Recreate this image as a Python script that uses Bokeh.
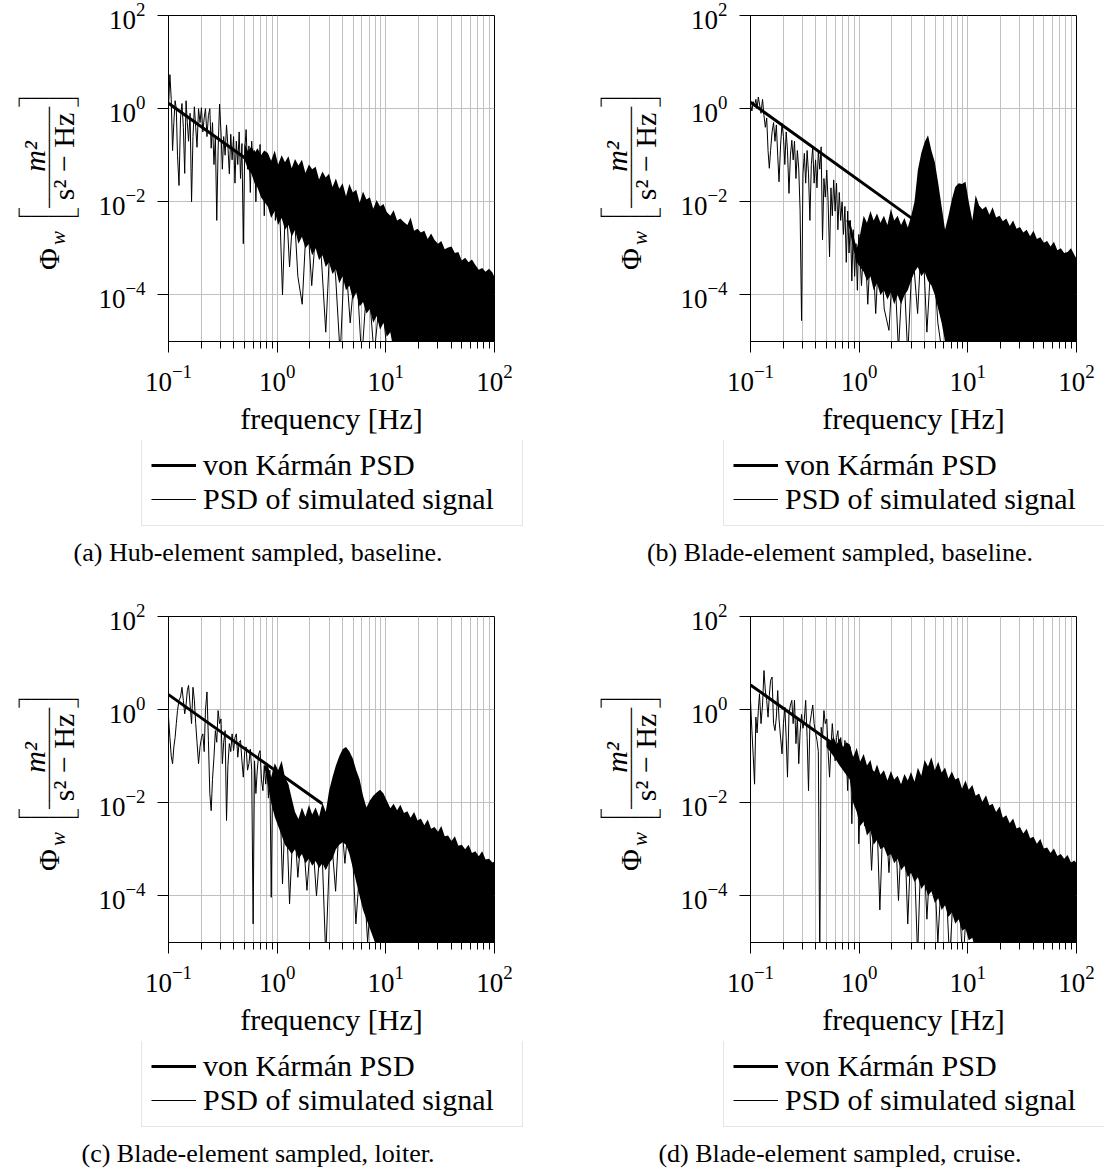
import math
from bokeh.plotting import figure
from bokeh.layouts import column, row
from bokeh.models import FixedTicker, Legend, LegendItem
from bokeh.core.properties import value
from bokeh.embed import file_html
from bokeh.resources import INLINE

# ---------------- data ----------------
# frequencies (Hz) of the resolved (sparse) part of the simulated PSD
LF = [0.100, 0.103, 0.106, 0.109, 0.112, 0.115, 0.118, 0.121, 0.125, 0.129,
      0.133, 0.137, 0.141, 0.145, 0.149, 0.153, 0.158, 0.163, 0.168, 0.173,
      0.178, 0.183, 0.189, 0.195, 0.201, 0.207, 0.213, 0.219, 0.226, 0.233,
      0.240, 0.247, 0.254, 0.262, 0.270, 0.278, 0.286, 0.295, 0.304, 0.313,
      0.322, 0.332, 0.342, 0.352, 0.363, 0.374, 0.385, 0.397, 0.409, 0.421,
      0.434, 0.447, 0.460, 0.474, 0.488, 0.503, 0.518, 0.534, 0.550, 0.566,
      0.583, 0.601, 0.619, 0.637, 0.656, 0.676, 0.696, 0.717, 0.739, 0.761,
      0.784, 0.807, 0.831, 0.856, 0.882, 0.908, 0.935, 0.963, 0.992, 1.05,
      1.12, 1.20, 1.30, 1.42, 1.55, 1.70, 1.88, 2.08, 2.30, 2.55,
      2.80, 3.10, 3.45, 3.80, 4.20, 4.70, 5.30, 6.00, 6.80, 7.80,
      9.00, 10.5]

# frequencies (Hz) of the dense band of the simulated PSD
FB = [0.50, 0.54, 0.58, 0.62, 0.66, 0.71, 0.76,
      0.82, 0.88, 0.95, 1.02, 1.10, 1.18, 1.27, 1.36, 1.46, 1.57,
      1.69, 1.82, 1.96, 2.10, 2.26, 2.43, 2.61, 2.80, 3.00, 3.23,
      3.47, 3.73, 4.00, 4.30, 4.62, 4.97, 5.34, 5.74, 6.17, 6.63,
      7.13, 7.66, 8.23, 8.85, 9.51,
      10.2, 11.0, 11.8, 12.7, 13.6, 14.7, 15.8, 16.9, 18.2, 19.6,
      21.0, 22.6, 24.3, 26.1, 28.1, 30.2, 32.4, 34.8, 37.4, 40.2,
      43.2, 46.5, 50.0, 53.7, 57.7, 62.0, 66.7, 71.7, 77.0, 82.8,
      89.0, 95.7, 100.0]

# PSD values as powers of ten (exponents)
# (a) hub-element, baseline
A_LINE = [0.05, 0.73, 0.2, -0.9, -0.3, 0.17, 0.0, -1.0, -1.65, -0.2,
          0.11, -0.4, -1.39, 0.17, -0.3, -0.7, -0.1, -2.0, -0.6, 0.04,
          -0.4, -0.83, 0.0, -0.3, 0.02, -0.5, -0.2, 0.0, -0.6, -0.15,
          0.0, -0.85, -0.3, -1.2, -0.6, -2.4, -0.9, 0.1, -0.5, -1.3,
          -0.6, -1.0, -0.35, -0.8, -1.4, -0.55, -1.1, -0.6, -1.6, -0.7,
          -1.2, -0.5, -1.5, -0.75, -2.9, -0.9, -0.45, -1.3, -0.8, -1.8,
          -0.7, -1.4, -0.9, -2.0, -0.95, -1.6, -0.77, -1.9, -1.0, -2.3,
          -1.1, -1.7, -1.0, -2.2, -1.2, -1.8, -1.05, -2.4, -1.3, -2.0,
          -4.0, -1.8, -3.4, -2.0, -3.6, -4.2, -2.2, -3.8, -2.4, -3.2,
          -4.8, -2.6, -3.6, -5.3, -3.0, -4.6, -3.2, -5.4, -3.5, -5.3,
          -3.8, -5.5]
A_UP = [-0.75, -0.92, -0.8, -0.95, -0.85, -1.0, -0.9,
        -0.95, -1.12, -0.9, -1.2, -1.0, -1.15, -1.02, -1.28, -1.08, -1.22,
        -1.1, -1.38, -1.2, -1.3, -1.25, -1.52, -1.35, -1.48, -1.4, -1.68,
        -1.5, -1.72, -1.6, -1.88, -1.62, -1.8, -1.74, -2.02, -1.78, -1.95,
        -1.9, -2.15, -1.96, -2.1, -2.05,
        -2.22, -2.3, -2.18, -2.4, -2.36, -2.44, -2.5, -2.34, -2.62, -2.58,
        -2.66, -2.62, -2.8, -2.68, -2.82, -2.9, -2.84, -3.02, -2.98, -2.96,
        -3.1, -3.08, -3.26, -3.2, -3.3, -3.24, -3.36, -3.46, -3.42, -3.5,
        -3.44, -3.52, -3.62]
A_LO = [-1.1, -1.3, -1.4, -1.6, -1.7, -1.9, -2.0,
        -2.1, -2.35, -2.2, -2.5, -2.35, -2.6, -2.5, -2.75, -2.6, -2.9,
        -2.75, -3.0, -2.9, -3.15, -3.0, -3.25, -3.15, -3.4, -3.3, -3.55,
        -3.45, -3.75, -3.6, -3.9, -3.8, -4.1, -3.95, -4.25, -4.15, -4.4,
        -4.3, -4.6, -4.45, -4.75, -4.6,
        -4.9, -4.8, -5.2, -6.0, -6.0, -6.0, -6.0, -6.0, -6.0, -6.0,
        -6.0, -6.0, -6.0, -6.0, -6.0, -6.0, -6.0, -6.0, -6.0, -6.0,
        -6.0, -6.0, -6.0, -6.0, -6.0, -6.0, -6.0, -6.0, -6.0, -6.0,
        -6.0, -6.0, -6.0]

# (b) blade-element, baseline
B_LINE = [0.1, -0.05, 0.15, 0.05, 0.2, 0.0, 0.25, 0.1, -0.1, 0.2,
          -0.15, -0.4, -0.2, -0.9, -1.28, -0.9, -0.5, -0.3, -0.7, -0.35,
          -1.0, -1.57, -0.8, -0.32, -0.6, -1.2, -0.5, -0.9, -1.82, -1.0,
          -0.68, -1.1, -0.7, -1.5, -0.9, -1.3, -2.18, -4.55, -1.4, -0.96,
          -1.6, -0.9, -1.4, -2.4, -1.2, -0.82, -1.6, -1.1, -1.7, -0.9,
          -1.3, -0.82, -2.82, -1.5, -1.9, -1.32, -2.0, -3.18, -1.7, -2.3,
          -1.53, -2.2, -1.6, -2.6, -1.8, -2.4, -2.0, -2.7, -2.1, -3.3,
          -2.2, -3.1, -2.4, -3.7, -2.6, -3.6, -2.9, -3.9, -2.7, -3.8,
          -2.6, -4.2, -2.5, -4.4, -2.6, -4.3, -4.76, -3.0, -5.2, -3.2,
          -5.3, -3.0, -4.4, -2.5, -4.8, -2.8, -4.6, -5.5, -3.5, -5.4,
          -3.6, -5.5]
B_UP = [-2.4, -2.4, -2.4, -2.4, -2.4, -2.4, -2.4,
        -2.4, -2.7, -3.0, -2.7, -2.3, -2.45, -2.2, -2.4, -2.25, -2.45,
        -2.3, -2.5, -2.15, -2.4, -2.3, -2.5, -2.35, -2.55, -2.32, -2.0,
        -1.32, -0.95, -0.72, -0.57, -0.9, -1.15, -1.6, -2.1, -2.6, -2.3,
        -1.95, -1.68, -1.6, -1.62, -1.57,
        -2.0, -2.4, -1.86, -2.08, -2.16, -2.1, -2.28, -2.12, -2.34, -2.3,
        -2.42, -2.36, -2.52, -2.4, -2.58, -2.54, -2.66, -2.6, -2.74, -2.62,
        -2.8, -2.76, -2.88, -2.84, -2.96, -2.86, -3.04, -3.0, -3.1, -3.08,
        -3.0, -3.14, -3.22]
B_LO = [-2.4, -2.4, -2.4, -2.4, -2.4, -2.4, -2.4,
        -2.6, -3.0, -3.3, -3.4, -3.5, -3.7, -3.6, -3.9, -3.75, -4.0,
        -3.9, -4.1, -3.95, -4.2, -4.0, -4.2, -4.0, -3.9, -3.7, -3.5,
        -3.4, -3.6, -3.5, -3.7, -3.8, -4.0, -4.3, -4.6, -5.0, -6.0,
        -6.0, -6.0, -6.0, -6.0, -6.0,
        -6.0, -6.0, -6.0, -6.0, -6.0, -6.0, -6.0, -6.0, -6.0, -6.0,
        -6.0, -6.0, -6.0, -6.0, -6.0, -6.0, -6.0, -6.0, -6.0, -6.0,
        -6.0, -6.0, -6.0, -6.0, -6.0, -6.0, -6.0, -6.0, -6.0, -6.0,
        -6.0, -6.0, -6.0]

# (c) blade-element, loiter
C_LINE = [-0.16, -0.6, -1.0, -1.16, -0.8, -0.6, -0.3, -0.02, 0.2, 0.27,
          0.48, 0.2, -0.09, 0.1, 0.41, 0.52, 0.1, -0.3, 0.48, 0.2,
          -0.3, -0.7, -1.16, -0.8, -0.6, -0.52, -0.9, 0.0, 0.38, -0.66,
          -1.8, -2.17, -1.5, -1.02, -0.45, -0.7, -0.02, -0.3, -0.2, -1.16,
          -0.7, -0.45, -2.38, -1.2, -0.73, -0.9, -0.52, -0.88, -0.6, -0.52,
          -1.02, -0.7, -0.66, -1.1, -1.45, -0.9, -0.8, -1.3, -1.16, -0.85,
          -1.3, -4.6, -1.1, -1.8, -1.3, -0.95, -0.88, -1.5, -1.74, -1.2,
          -1.6, -1.16, -1.9, -1.3, -4.03, -1.45, -2.0, -1.5, -2.1, -1.6,
          -3.74, -1.8, -4.17, -2.2, -3.6, -2.4, -3.88, -2.5, -4.0, -2.6,
          -5.3, -2.5, -3.9, -2.0, -3.3, -2.0, -4.6, -2.8, -5.0, -3.0,
          -5.5, -3.2]
C_UP = [-1.2, -1.2, -1.2, -1.2, -1.2, -1.2, -1.2,
        -1.2, -1.45, -1.15, -1.3, -1.1, -1.45, -1.6, -1.9, -2.2, -2.35,
        -2.1, -2.3, -2.05, -2.25, -2.1, -2.3, -2.0, -2.2, -1.75, -1.45,
        -1.2, -1.0, -0.85, -0.8, -0.9, -1.05, -1.3, -1.5, -1.85, -2.1,
        -1.95, -1.85, -1.78, -1.72, -1.8,
        -1.95, -2.12, -2.02, -2.16, -2.04, -2.22, -2.18, -2.32, -2.2, -2.38,
        -2.34, -2.48, -2.36, -2.56, -2.52, -2.62, -2.5, -2.72, -2.7, -2.82,
        -2.72, -2.92, -2.9, -3.0, -2.9, -3.08, -3.04, -3.15, -3.04, -3.22,
        -3.2, -3.28, -3.26]
C_LO = [-1.2, -1.2, -1.2, -1.2, -1.2, -1.2, -1.2,
        -1.6, -2.0, -2.3, -2.5, -2.7, -2.9, -3.0, -3.1, -3.0, -3.2,
        -3.1, -3.3, -3.2, -3.35, -3.25, -3.4, -3.3, -3.45, -3.3, -3.2,
        -3.0, -2.9, -2.85, -2.9, -3.1, -3.4, -3.7, -4.0, -4.3, -4.5,
        -4.7, -4.9, -5.1, -6.0, -6.0,
        -6.0, -6.0, -6.0, -6.0, -6.0, -6.0, -6.0, -6.0, -6.0, -6.0,
        -6.0, -6.0, -6.0, -6.0, -6.0, -6.0, -6.0, -6.0, -6.0, -6.0,
        -6.0, -6.0, -6.0, -6.0, -6.0, -6.0, -6.0, -6.0, -6.0, -6.0,
        -6.0, -6.0, -6.0]

# (d) blade-element, cruise
D_LINE = [0.2, -0.45, -1.0, -1.6, -0.16, -0.5, -0.02, 0.34, -0.3, 0.1,
          0.84, 0.4, 0.2, -0.16, 0.3, 0.63, 0.7, -0.3, -0.45, -0.16,
          0.41, -0.2, -0.59, -0.95, -0.3, 0.05, -0.6, -1.45, -0.09, 0.1,
          0.2, -0.3, 0.2, -0.73, -0.16, -1.16, -0.5, -0.1, -0.4, -0.2,
          0.2, -0.6, -1.74, -0.3, -0.1, 0.1, -0.3, -0.5, -0.66, -0.9,
          -5.5, -0.38, -0.6, -0.02, -0.3, -0.2, -0.9, -1.45, -0.8, -0.3,
          -0.7, -1.1, -0.6, -0.45, -0.9, -0.6, -0.88, -1.3, -0.66, -1.0,
          -1.74, -0.9, -0.8, -2.45, -1.2, -1.02, -1.9, -1.1, -2.88, -1.3,
          -2.5, -1.4, -3.45, -1.5, -4.3, -1.6, -3.5, -1.7, -4.1, -1.8,
          -4.6, -2.0, -5.3, -2.2, -4.5, -2.4, -5.0, -2.6, -5.4, -2.8,
          -5.5, -3.0]
D_UP = [-0.6, -0.72, -0.58, -0.75, -0.62, -0.8, -0.7,
        -0.75, -1.02, -0.82, -1.12, -0.95, -1.2, -1.08, -1.38, -1.18, -1.4,
        -1.3, -1.52, -1.32, -1.5, -1.42, -1.6, -1.38, -1.52, -1.34, -1.55,
        -1.25, -1.42, -1.08, -1.22, -1.02, -1.3, -1.12, -1.35, -1.24, -1.48,
        -1.33, -1.5, -1.46, -1.7, -1.52,
        -1.72, -1.62, -1.85, -1.8, -1.98, -1.84, -2.06, -2.02, -2.2, -2.08,
        -2.32, -2.27, -2.44, -2.34, -2.55, -2.52, -2.66, -2.56, -2.76, -2.73,
        -2.88, -2.78, -2.98, -2.96, -3.08, -2.98, -3.14, -3.1, -3.2, -3.12,
        -3.28, -3.24, -3.3]
D_LO = [-0.8, -0.9, -1.0, -1.1, -1.2, -1.3, -1.4,
        -1.5, -2.0, -2.2, -2.5, -2.4, -2.7, -2.6, -2.9, -2.8, -3.0,
        -2.95, -3.15, -3.1, -3.3, -3.2, -3.45, -3.35, -3.6, -3.5, -3.7,
        -3.6, -3.85, -3.75, -4.0, -3.9, -4.15, -4.05, -4.3, -4.2, -4.45,
        -4.35, -4.6, -4.5, -4.75, -4.7,
        -4.95, -4.9, -5.2, -6.0, -6.0, -6.0, -6.0, -6.0, -6.0, -6.0,
        -6.0, -6.0, -6.0, -6.0, -6.0, -6.0, -6.0, -6.0, -6.0, -6.0,
        -6.0, -6.0, -6.0, -6.0, -6.0, -6.0, -6.0, -6.0, -6.0, -6.0,
        -6.0, -6.0, -6.0]

# von Karman reference spectrum (end points of the straight line)
VK_A_F = [0.1, 3.0]
VK_A = [1.3, 0.0045]
VK_B_F = [0.1, 3.1]
VK_B = [1.37, 0.0043]
VK_C_F = [0.1, 2.6]
VK_C = [2.1, 0.0095]
VK_D_F = [0.1, 3.0]
VK_D = [3.4, 0.0118]

CAPTIONS = ["(a) Hub-element sampled, baseline.",
            "(b) Blade-element sampled, baseline.",
            "(c) Blade-element sampled, loiter.",
            "(d) Blade-element sampled, cruise."]
LEGEND_LABELS = ["von Kármán PSD", "PSD of simulated signal"]
X_LABEL = "frequency [Hz]"
X_TICKS = [0.1, 1, 10, 100]
X_MINOR = [0.2, 0.3, 0.4, 0.5, 0.6, 0.7, 0.8, 0.9,
           2, 3, 4, 5, 6, 7, 8, 9,
           20, 30, 40, 50, 60, 70, 80, 90]
Y_TICKS = [1e-4, 1e-2, 1, 1e2]

# ---------------- style / layout ----------------
SERIF = "Liberation Serif"
MONO = "DejaVu Sans Mono"
GRID = "#c0c0c0"
TOP = 15             # frame top inside a panel
FRAME = 326          # frame size
BOTTOM = 99          # space under the frame for the x axis
PLOT_H = TOP + FRAME + BOTTOM
FRAME_BOTTOM = TOP + FRAME
HALF_PI = math.pi / 2
NAN = float("nan")

# y-axis title pieces: text, x (px from panel left), y (px from panel top), size, font, style, angle
YTITLE = [
    ("Φ", 47.5, 258.5, "30px", SERIF, "normal", HALF_PI),
    ("w", 57.0, 237.5, "21px", SERIF, "italic", HALF_PI),
    ("└──────┘", 48.0, 215.0, "14px", MONO, "normal", 0.0),
    ("┌──────┐", 48.0, 97.0, "14px", MONO, "normal", 0.0),
    ("────────────", 48.0, 157.0, "14px", MONO, "normal", HALF_PI),
    ("m²", 34.0, 156.0, "30px", SERIF, "italic", HALF_PI),
    ("s² − Hz", 63.0, 156.0, "30px", SERIF, "normal", HALF_PI),
]


def pw(exps):
    return [10.0 ** e for e in exps]


def blank_fig(width, height, border_top=0, border_bottom=0):
    f = figure(width=width, height=height,
               x_range=(0, width), y_range=(0, height - border_top - border_bottom),
               x_axis_location=None, y_axis_location=None,
               min_border_left=0, min_border_right=0,
               min_border_top=border_top, min_border_bottom=border_bottom,
               toolbar_location=None, output_backend="svg", title=None)
    f.outline_line_color = None
    f.xgrid.grid_line_color = None
    f.ygrid.grid_line_color = None
    f.background_fill_color = "white"
    f.border_fill_color = "white"
    return f


def ytitle_fig(width, dx):
    # same vertical borders as the plot next to it, so its frame lines up
    f = blank_fig(width, PLOT_H, TOP, BOTTOM)
    for t, x, y, size, font, style, ang in YTITLE:
        f.text(x=[x + dx], y=[FRAME_BOTTOM - y], text=[t], angle=ang,
               text_align="center", text_baseline="middle",
               text_font=value(font), text_font_size=value(size),
               text_font_style=value(style), text_color="black")
    return f


def legend_caption_fig(caption, cap_x, legend_x, height):
    f = blank_fig(552, height)
    # legend keys only (no visible data)
    k1 = f.line(x=[NAN, NAN], y=[NAN, NAN], line_color="black", line_width=3)
    k2 = f.line(x=[NAN, NAN], y=[NAN, NAN], line_color="black", line_width=1)
    legend = Legend(items=[LegendItem(label=LEGEND_LABELS[0], renderers=[k1], index=0),
                           LegendItem(label=LEGEND_LABELS[1], renderers=[k2], index=0)],
                    location=(legend_x, height - 86), orientation="vertical")
    legend.label_text_font = SERIF
    legend.label_text_font_size = "30px"
    legend.label_text_color = "black"
    legend.glyph_width = 45
    legend.glyph_height = 20
    legend.label_standoff = 7
    legend.label_width = 310
    legend.padding = 9
    legend.spacing = 0
    legend.margin = 0
    legend.border_line_color = "#cccccc"
    legend.border_line_width = 1
    legend.background_fill_color = "white"
    legend.background_fill_alpha = 1.0
    f.add_layout(legend)
    f.text(x=[cap_x], y=[height - 112], text=[caption], text_align="center",
           text_baseline="middle", text_font=value(SERIF),
           text_font_size=value("26px"), text_color="black")
    return f


def plot_fig(line_exp, up_exp, lo_exp, vk_f, vk_v, width, border_left, border_right):
    assert len(line_exp) == len(LF), len(line_exp)
    assert len(up_exp) == len(FB) and len(lo_exp) == len(FB), (len(up_exp), len(lo_exp))
    p = figure(width=width, height=PLOT_H,
               x_axis_type="log", y_axis_type="log",
               x_range=(0.1, 100), y_range=(1e-5, 1e2),
               min_border_left=border_left, min_border_right=border_right,
               min_border_top=TOP, min_border_bottom=BOTTOM,
               toolbar_location=None, output_backend="svg", title=None)
    p.background_fill_color = "white"
    p.border_fill_color = "white"
    p.outline_line_color = "black"
    p.outline_line_width = 1

    p.xaxis.ticker = FixedTicker(ticks=X_TICKS, minor_ticks=X_MINOR)
    p.yaxis.ticker = FixedTicker(ticks=Y_TICKS, minor_ticks=[])
    for ax in (p.xaxis[0], p.yaxis[0]):
        ax.axis_line_color = "black"
        ax.major_tick_line_color = "black"
        ax.minor_tick_line_color = "black"
        ax.major_tick_in = 0
        ax.major_tick_out = 11
        ax.minor_tick_in = 0
        ax.minor_tick_out = 7
        ax.major_label_text_font = SERIF
        ax.major_label_text_font_size = "27px"
        ax.major_label_text_color = "black"
        ax.major_label_standoff = 12
    p.yaxis.minor_tick_line_color = None
    p.xaxis.axis_label = X_LABEL
    p.xaxis.axis_label_text_font = SERIF
    p.xaxis.axis_label_text_font_size = "30px"
    p.xaxis.axis_label_text_font_style = "normal"
    p.xaxis.axis_label_text_color = "black"
    p.xaxis.axis_label_standoff = 8

    p.xgrid.grid_line_color = GRID
    p.xgrid.minor_grid_line_color = GRID
    p.ygrid.grid_line_color = GRID
    p.ygrid.minor_grid_line_color = None

    p.varea(x=FB, y1=pw(lo_exp), y2=pw(up_exp), fill_color="black", fill_alpha=1.0)
    p.line(LF, pw(line_exp), line_color="black", line_width=1)
    p.line(vk_f, vk_v, line_color="black", line_width=3)
    return p


def panel(line_exp, up_exp, lo_exp, vk_f, vk_v, caption, left_side, total_h):
    lower_h = total_h - PLOT_H
    if left_side:
        yt = ytitle_fig(95, 0)
        pf = plot_fig(line_exp, up_exp, lo_exp, vk_f, vk_v, 457, 73, 58)
        lc = legend_caption_fig(caption, 257.5, 141, lower_h)
    else:
        yt = ytitle_fig(125, 30)
        pf = plot_fig(line_exp, up_exp, lo_exp, vk_f, vk_v, 427, 73, 28)
        lc = legend_caption_fig(caption, 287.5, 171, lower_h)
    return column(row(yt, pf, spacing=0), lc, spacing=0)


pa = panel(A_LINE, A_UP, A_LO, VK_A_F, VK_A, CAPTIONS[0], True, 601)
pb = panel(B_LINE, B_UP, B_LO, VK_B_F, VK_B, CAPTIONS[1], False, 601)
pc = panel(C_LINE, C_UP, C_LO, VK_C_F, VK_C, CAPTIONS[2], True, 571)
pd = panel(D_LINE, D_UP, D_LO, VK_D_F, VK_D, CAPTIONS[3], False, 571)

layout = column(row(pa, pb, spacing=0), row(pc, pd, spacing=0), spacing=0)
open("out.html", "w").write(file_html(layout, INLINE))
